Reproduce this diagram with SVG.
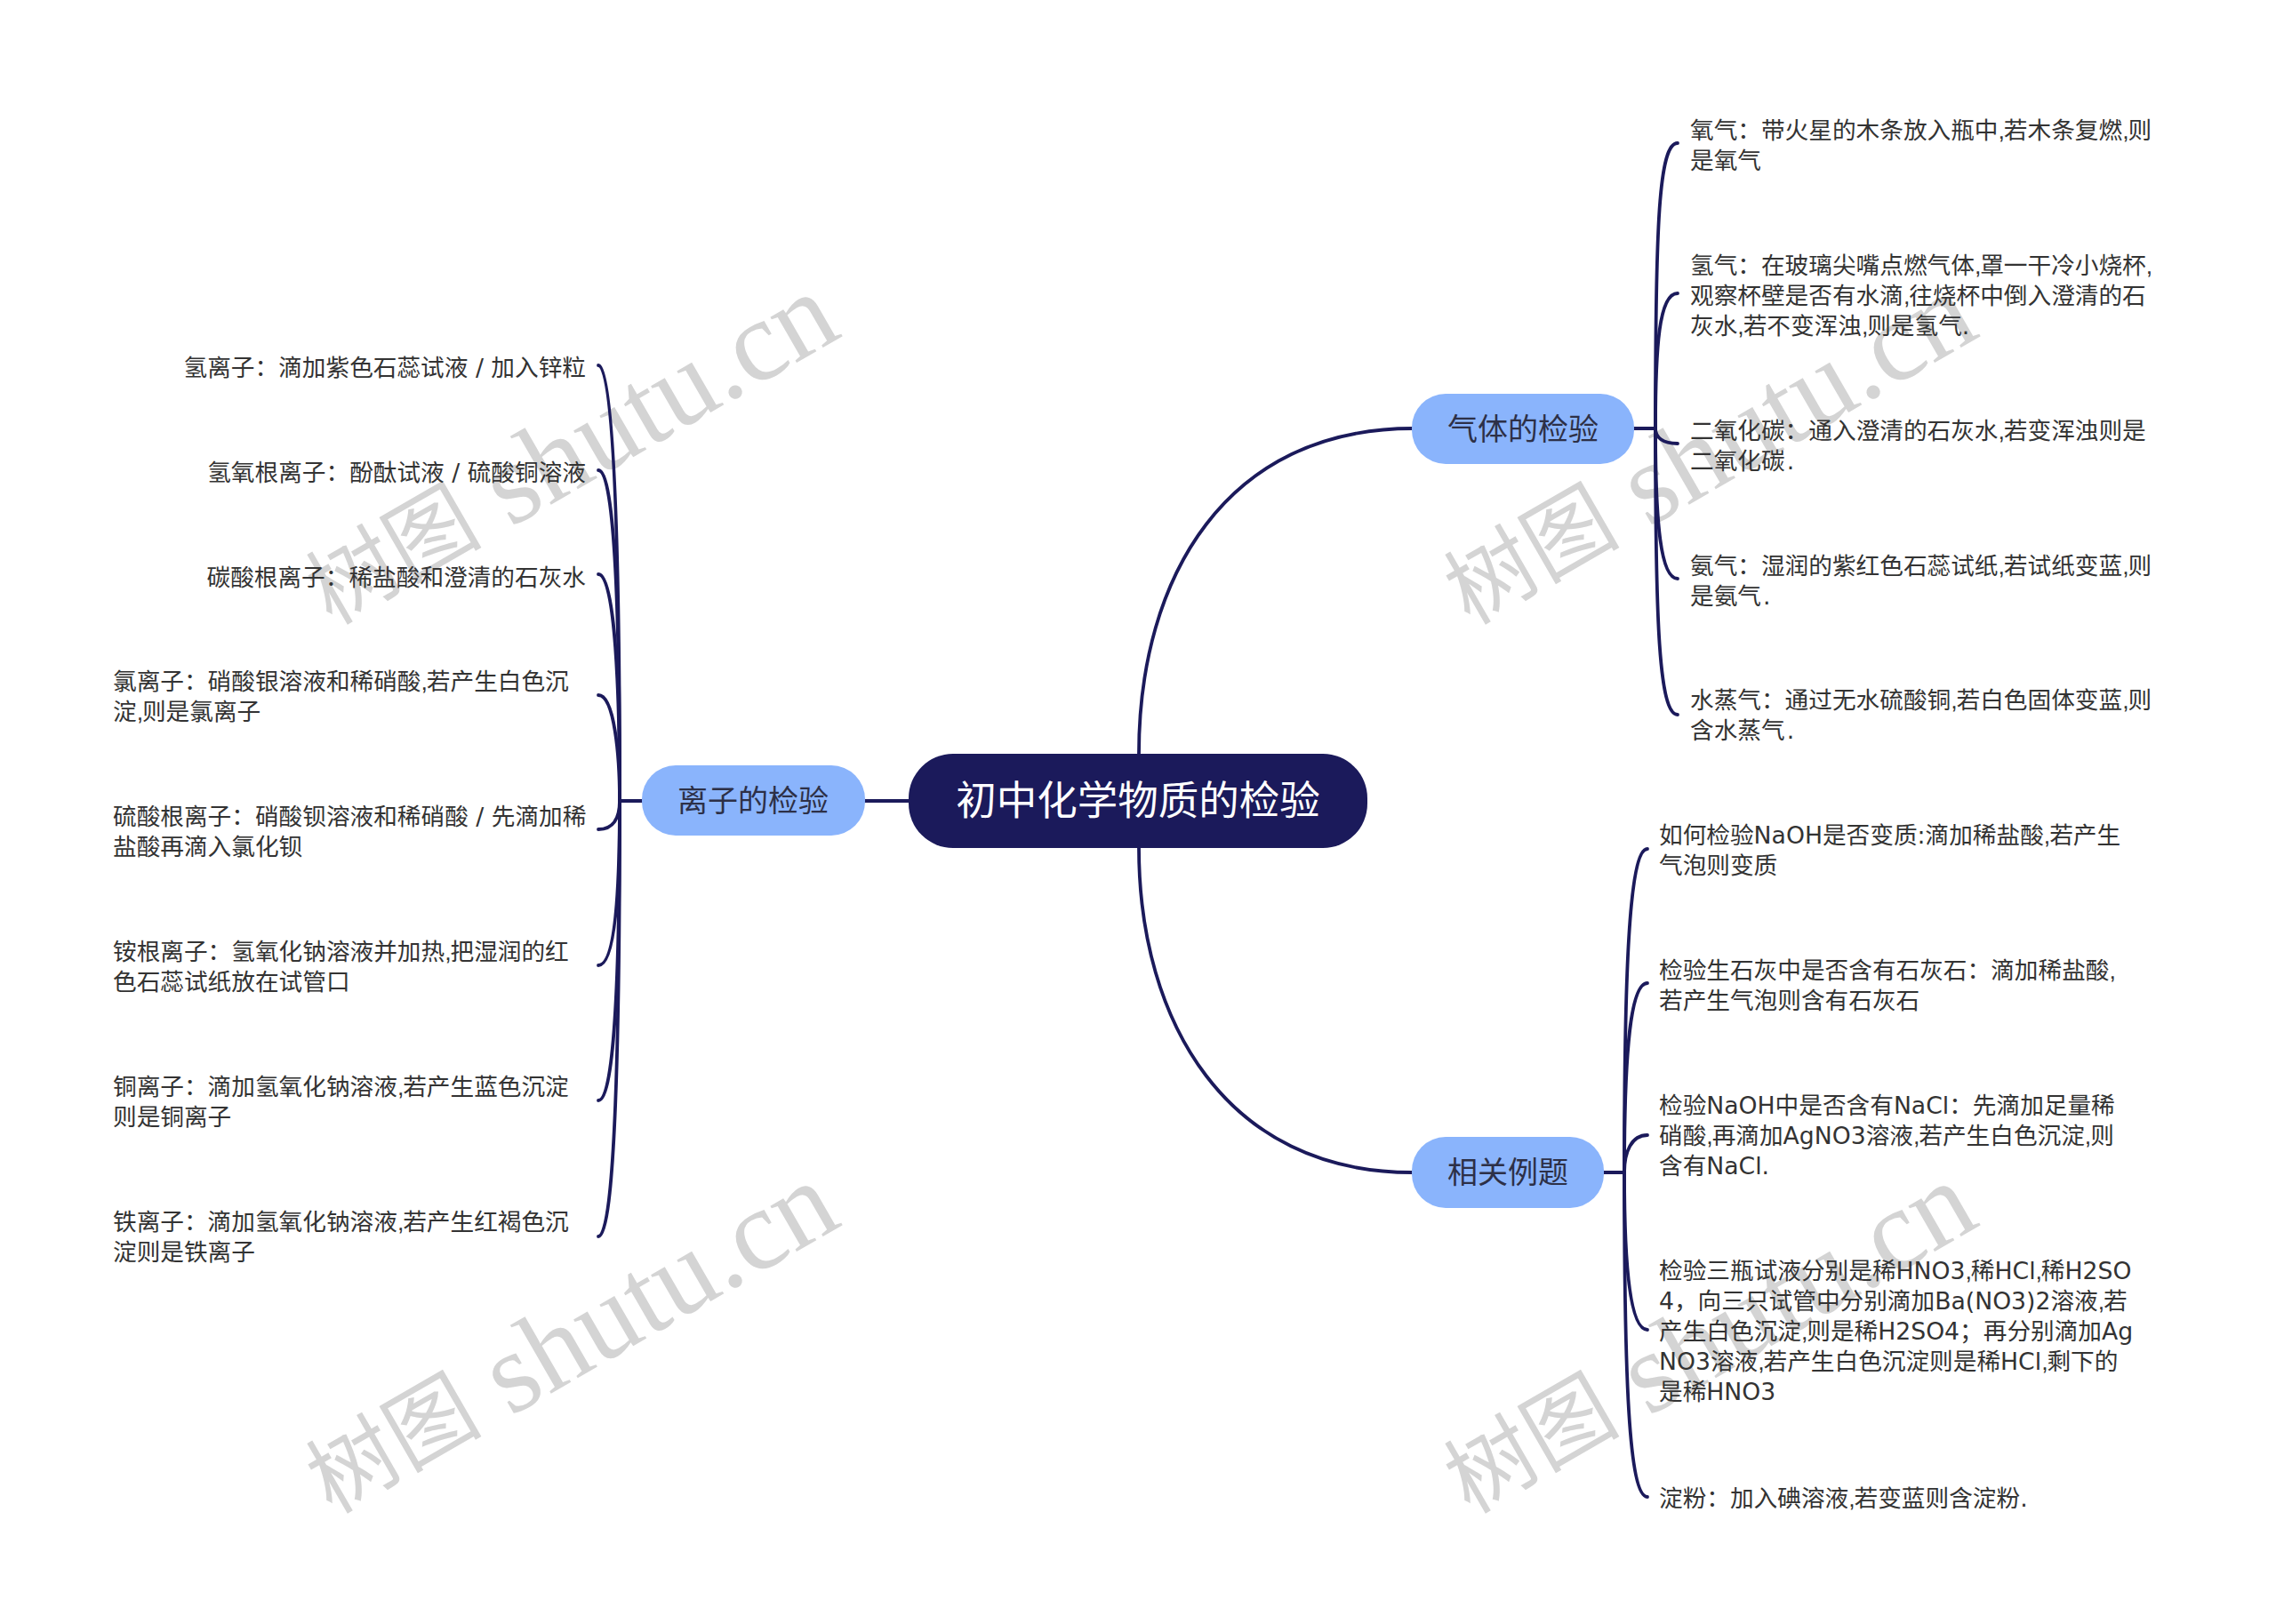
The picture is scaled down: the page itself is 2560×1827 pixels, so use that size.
<svg xmlns="http://www.w3.org/2000/svg" width="2560" height="1827" viewBox="0 0 2560 1827">
<defs>
<style>
.wm{font-family:"Liberation Serif",serif;font-size:129px;fill:#d4d4d4}
.wc{font-family:"Noto Sans CJK SC",sans-serif;font-size:99px;fill:#d4d4d4}
.c{fill:none;stroke:#1b1a5b;stroke-width:3.8;stroke-linecap:round}
.t{font-family:"DejaVu Sans","Noto Sans CJK SC",sans-serif;font-size:26.67px;fill:#333}
.k{font-family:"Liberation Sans",sans-serif;letter-spacing:-1.1px}
.n{font-family:"DejaVu Sans","Noto Sans CJK SC",sans-serif;font-size:34px;fill:#2d3047;text-anchor:middle}
.r{font-family:"DejaVu Sans","Noto Sans CJK SC",sans-serif;font-size:45.5px;fill:#fff;text-anchor:middle}
.nb{fill:#8ab4fc}
</style>
<g id="wmark"><text class="wc" transform="translate(373 704) rotate(-30)">树图</text><text class="wm" transform="translate(574 594) rotate(-30)">shutu.cn</text></g>
</defs>
<rect width="2560" height="1827" fill="#fff"/>
<g id="watermarks">
<use href="#wmark"/>
<use href="#wmark" x="0" y="1000"/>
<use href="#wmark" x="1280" y="0"/>
<use href="#wmark" x="1280" y="1000"/>
</g>
<g id="connectors">
<path class="c" d="M1281 848C1281 648 1380 482 1589 482"/>
<path class="c" d="M1281 954C1281 1150 1380 1319 1588 1319"/>
<path class="c" d="M1022 901H973"/>
<path class="c" d="M1838 482H1862"/>
<path class="c" d="M1862 482C1862 250 1866 161 1887 161"/>
<path class="c" d="M1862 482C1862 390 1866 330 1887 330"/>
<path class="c" d="M1862 482C1862 492 1870 499 1887 499"/>
<path class="c" d="M1862 482C1862 590 1868 651 1887 651"/>
<path class="c" d="M1862 482C1862 700 1866 804 1887 804"/>
<path class="c" d="M1804 1319H1827"/>
<path class="c" d="M1827 1319C1827 1100 1832 955 1853 955"/>
<path class="c" d="M1827 1319C1827 1200 1832 1106 1853 1106"/>
<path class="c" d="M1827 1319C1827 1296 1835 1277 1853 1277"/>
<path class="c" d="M1827 1319C1827 1420 1833 1496 1853 1496"/>
<path class="c" d="M1827 1319C1827 1550 1832 1684 1853 1684"/>
<path class="c" d="M722 901H697"/>
<path class="c" d="M697 901C697 650 692 411 673 411"/>
<path class="c" d="M697 901C697 700 692 529 673 529"/>
<path class="c" d="M697 901C697 780 692 646 673 646"/>
<path class="c" d="M697 901C697 850 691 782 673 782"/>
<path class="c" d="M697 901C697 920 690 933 673 933"/>
<path class="c" d="M697 901C697 1000 692 1086 673 1086"/>
<path class="c" d="M697 901C697 1080 692 1238 673 1238"/>
<path class="c" d="M697 901C697 1160 692 1391 673 1391"/>
</g>
<g id="root"><rect x="1022" y="848" width="516" height="106" rx="50" fill="#1b1a5b"/><text class="r" x="1280" y="917">初中化学物质的检验</text></g>
<g id="gas"><rect class="nb" x="1588" y="443" width="250" height="79" rx="38"/><text class="n" x="1713" y="495">气体的检验</text></g>
<g id="ion"><rect class="nb" x="722" y="861" width="251" height="79" rx="38"/><text class="n" x="847" y="913">离子的检验</text></g>
<g id="example"><rect class="nb" x="1588" y="1279" width="216" height="80" rx="38"/><text class="n" x="1696" y="1331">相关例题</text></g>
<g id="g1"><text class="t"><tspan x="1901" y="156">氧气：带火星的木条放入瓶中<tspan class="k">,</tspan>若木条复燃<tspan class="k">,</tspan>则</tspan><tspan x="1901" y="190">是氧气</tspan></text></g>
<g id="g2"><text class="t"><tspan x="1901" y="308">氢气：在玻璃尖嘴点燃气体<tspan class="k">,</tspan>罩一干冷小烧杯<tspan class="k">,</tspan></tspan><tspan x="1901" y="342">观察杯壁是否有水滴<tspan class="k">,</tspan>往烧杯中倒入澄清的石</tspan><tspan x="1901" y="376">灰水<tspan class="k">,</tspan>若不变浑浊<tspan class="k">,</tspan>则是氢气.</tspan></text></g>
<g id="g3"><text class="t"><tspan x="1901" y="494">二氧化碳：通入澄清的石灰水<tspan class="k">,</tspan>若变浑浊则是</tspan><tspan x="1901" y="528">二氧化碳<tspan dx="2">.</tspan></tspan></text></g>
<g id="g4"><text class="t"><tspan x="1901" y="646">氨气：湿润的紫红色石蕊试纸<tspan class="k">,</tspan>若试纸变蓝<tspan class="k">,</tspan>则</tspan><tspan x="1901" y="680">是氨气<tspan dx="2">.</tspan></tspan></text></g>
<g id="g5"><text class="t"><tspan x="1901" y="797">水蒸气：通过无水硫酸铜<tspan class="k">,</tspan>若白色固体变蓝<tspan class="k">,</tspan>则</tspan><tspan x="1901" y="831">含水蒸气<tspan dx="2">.</tspan></tspan></text></g>
<g id="e1"><text class="t"><tspan x="1866" y="949">如何检验NaOH是否变质:滴加稀盐酸<tspan class="k">,</tspan>若产生</tspan><tspan x="1866" y="983">气泡则变质</tspan></text></g>
<g id="e2"><text class="t"><tspan x="1866" y="1101">检验生石灰中是否含有石灰石：滴加稀盐酸<tspan class="k">,</tspan></tspan><tspan x="1866" y="1135">若产生气泡则含有石灰石</tspan></text></g>
<g id="e3"><text class="t"><tspan x="1866" y="1253">检验NaOH中是否含有NaCl：先滴加足量稀</tspan><tspan x="1866" y="1287">硝酸<tspan class="k">,</tspan>再滴加AgNO3溶液<tspan class="k">,</tspan>若产生白色沉淀<tspan class="k">,</tspan>则</tspan><tspan x="1866" y="1321">含有NaCl.</tspan></text></g>
<g id="e4"><text class="t"><tspan x="1866" y="1439">检验三瓶试液分别是稀HNO3<tspan class="k">,</tspan>稀HCl<tspan class="k">,</tspan>稀H2SO</tspan><tspan x="1866" y="1473">4，向三只试管中分别滴加Ba(NO3)2溶液<tspan class="k">,</tspan>若</tspan><tspan x="1866" y="1507">产生白色沉淀<tspan class="k">,</tspan>则是稀H2SO4；再分别滴加Ag</tspan><tspan x="1866" y="1541">NO3溶液<tspan class="k">,</tspan>若产生白色沉淀则是稀HCl<tspan class="k">,</tspan>剩下的</tspan><tspan x="1866" y="1575">是稀HNO3</tspan></text></g>
<g id="e5"><text class="t"><tspan x="1866" y="1695">淀粉：加入碘溶液<tspan class="k">,</tspan>若变蓝则含淀粉.</tspan></text></g>
<g id="i1"><text class="t" text-anchor="end" x="659" y="423">氢离子：滴加紫色石蕊试液 / 加入锌粒</text></g>
<g id="i2"><text class="t" text-anchor="end" x="659" y="541">氢氧根离子：酚酞试液 / 硫酸铜溶液</text></g>
<g id="i3"><text class="t" text-anchor="end" x="659" y="659">碳酸根离子：稀盐酸和澄清的石灰水</text></g>
<g id="i4"><text class="t"><tspan x="127" y="776">氯离子：硝酸银溶液和稀硝酸<tspan class="k">,</tspan>若产生白色沉</tspan><tspan x="127" y="810">淀<tspan class="k">,</tspan>则是氯离子</tspan></text></g>
<g id="i5"><text class="t"><tspan x="127" y="928">硫酸根离子：硝酸钡溶液和稀硝酸 / 先滴加稀</tspan><tspan x="127" y="962">盐酸再滴入氯化钡</tspan></text></g>
<g id="i6"><text class="t"><tspan x="127" y="1080">铵根离子：氢氧化钠溶液并加热<tspan class="k">,</tspan>把湿润的红</tspan><tspan x="127" y="1114">色石蕊试纸放在试管口</tspan></text></g>
<g id="i7"><text class="t"><tspan x="127" y="1232">铜离子：滴加氢氧化钠溶液<tspan class="k">,</tspan>若产生蓝色沉淀</tspan><tspan x="127" y="1266">则是铜离子</tspan></text></g>
<g id="i8"><text class="t"><tspan x="127" y="1384">铁离子：滴加氢氧化钠溶液<tspan class="k">,</tspan>若产生红褐色沉</tspan><tspan x="127" y="1418">淀则是铁离子</tspan></text></g>
</svg>
